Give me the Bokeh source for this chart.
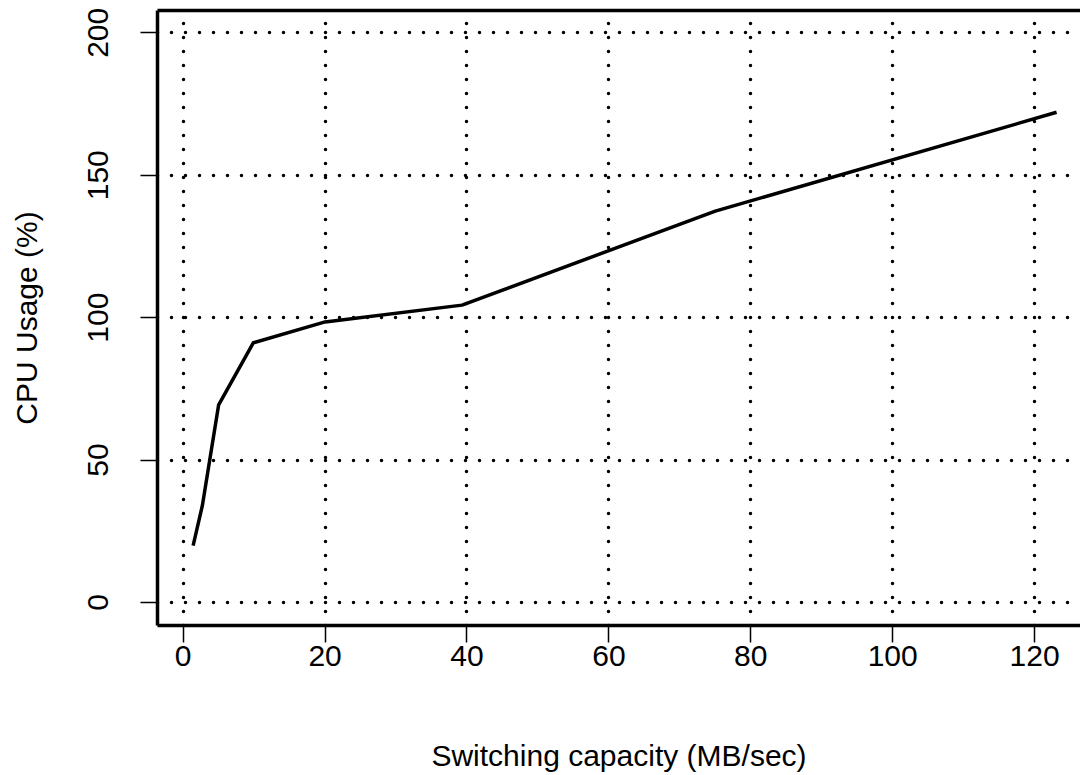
from bokeh.plotting import figure
from bokeh.models import LinearAxis, FixedTicker, Range1d, Grid
from bokeh.embed import file_html
from bokeh.resources import INLINE

# Data
capacity_mb_s = [1.4, 2.7, 5.0, 9.9, 20.0, 39.3, 75.0, 123.1]
cpu_usage_pct = [20.0, 34.0, 69.4, 91.2, 98.5, 104.4, 137.4, 172.1]
x_ticks = [0, 20, 40, 60, 80, 100, 120]
y_ticks = [0, 50, 100, 150, 200]

FONT = "Liberation Sans"
FS = "30px"

p = figure(width=1080, height=775, output_backend="svg", toolbar_location=None,
           x_range=Range1d(-3.62, 126.47), y_range=Range1d(-8.07, 207.83),
           x_axis_type=None, y_axis_type=None,
           min_border_left=157, min_border_right=0, min_border_top=10, min_border_bottom=150)
p.outline_line_color = None
p.background_fill_color = "white"
p.border_fill_color = "white"

xaxis = LinearAxis(ticker=FixedTicker(ticks=x_ticks), axis_label="Switching capacity (MB/sec)")
yaxis = LinearAxis(ticker=FixedTicker(ticks=y_ticks), axis_label="CPU Usage (%)")
top = LinearAxis(ticker=FixedTicker(ticks=[]))

for ax in (xaxis, yaxis):
    ax.axis_line_width = 3.5
    ax.axis_line_color = "black"
    ax.major_tick_line_width = 1.5
    ax.major_tick_line_color = "black"
    ax.major_tick_in = 0
    ax.major_tick_out = 17
    ax.minor_tick_line_color = None
    ax.major_label_text_font = FONT
    ax.major_label_text_font_size = FS
    ax.major_label_text_color = "black"
    ax.axis_label_text_font = FONT
    ax.axis_label_text_font_size = FS
    ax.axis_label_text_font_style = "normal"
    ax.axis_label_text_color = "black"

xaxis.major_label_standoff = 3
xaxis.axis_label_standoff = 70
yaxis.major_label_orientation = "vertical"
yaxis.major_label_standoff = 32
yaxis.axis_label_standoff = 43

top.axis_line_width = 3.5
top.axis_line_color = "black"
top.major_tick_line_color = None
top.minor_tick_line_color = None
top.major_label_text_font_size = "0px"

p.add_layout(xaxis, "below")
p.add_layout(yaxis, "left")
p.add_layout(top, "above")

gx = Grid(dimension=0, ticker=FixedTicker(ticks=x_ticks), grid_line_color="black",
          grid_line_width=3.5, grid_line_dash="0 14", grid_line_cap="round")
gy = Grid(dimension=1, ticker=FixedTicker(ticks=y_ticks), grid_line_color="black",
          grid_line_width=3.5, grid_line_dash="0 14", grid_line_cap="round")
p.add_layout(gx)
p.add_layout(gy)

p.line(capacity_mb_s, cpu_usage_pct, line_color="black", line_width=3.5, line_join="round")

open("out.html", "w").write(file_html(p, INLINE))
